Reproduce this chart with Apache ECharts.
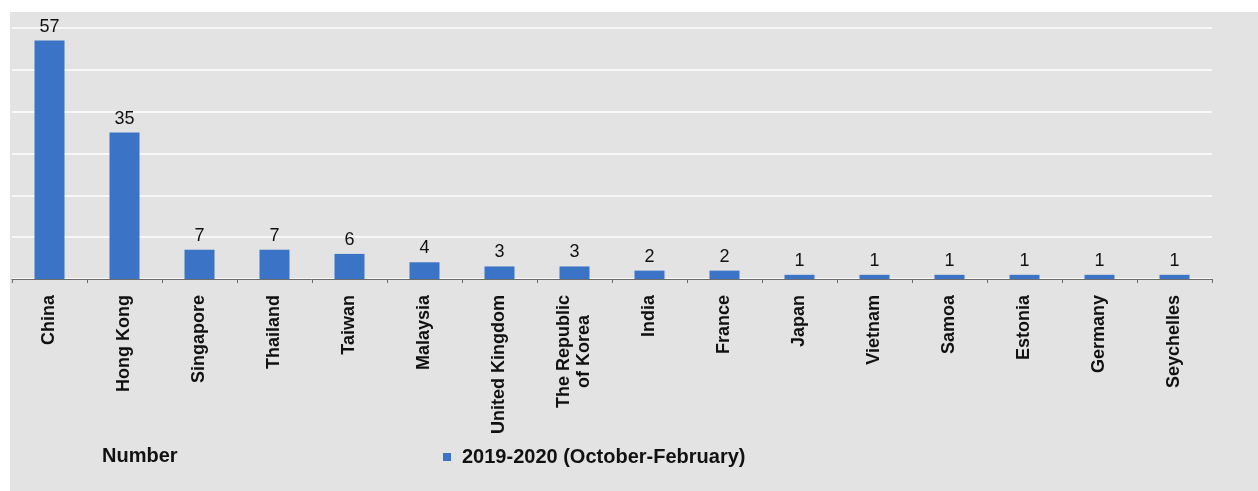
<!DOCTYPE html>
<html>
<head>
<meta charset="utf-8">
<script src="https://cdn.jsdelivr.net/npm/echarts@6/dist/echarts.min.js"></script>
<style>
html,body{margin:0;padding:0;background:#ffffff;}
#chart{width:1258px;height:491px;}
</style>
</head>
<body>
<div id="chart"></div>
<script>
const categories = ["China","Hong Kong","Singapore","Thailand","Taiwan","Malaysia","United Kingdom","The Republic\nof Korea","India","France","Japan","Vietnam","Samoa","Estonia","Germany","Seychelles"];
const values = [57,35,7,7,6,4,3,3,2,2,1,1,1,1,1,1];
const seriesName = "2019-2020 (October-February)";
const yAxisTitle = "Number";
const yMax = 60;
const yInterval = 10;

const chart = echarts.init(document.getElementById('chart'));
const font = '"Liberation Sans", Arial, sans-serif';
chart.setOption({
  backgroundColor: '#ffffff',
  animation: false,
  graphic: [{
    type: 'rect', z: -10, silent: true,
    shape: {x: 10, y: 12, width: 1248, height: 479},
    style: {fill: '#e3e3e3'}
  }],
  title: {
    text: yAxisTitle, left: 97, top: 441,
    textStyle: {fontFamily: font, fontSize: 20, fontWeight: 'bold', color: '#111'}
  },
  legend: {
    left: 438, top: 442,
    itemWidth: 8, itemHeight: 8, itemGap: 5,
    icon: 'rect',
    textStyle: {fontFamily: font, fontSize: 20, fontWeight: 'bold', color: '#111', padding: [0,0,0,6]},
    data: [seriesName]
  },
  grid: {left: 12, right: 46, top: 28, bottom: 212, containLabel: false},
  xAxis: {
    type: 'category',
    data: categories,
    axisLine: {show: true, lineStyle: {color: '#6b6b6b', width: 1}},
    axisTick: {show: true, length: 4, lineStyle: {color: '#6b6b6b'}},
    axisLabel: {
      rotate: 90, margin: 16, interval: 0,
      fontFamily: font, fontSize: 18, fontWeight: 'bold', color: '#111',
      formatter: function (v) { return v.split('\n').map(function (s) { return '{c|' + s + '}'; }).join('\n'); },
      rich: {c: {align: 'center', fontFamily: font, fontSize: 18, fontWeight: 'bold', color: '#111', lineHeight: 20}}
    }
  },
  yAxis: {
    type: 'value', min: 0, max: yMax, interval: yInterval,
    axisLine: {show: false}, axisTick: {show: false}, axisLabel: {show: false},
    splitLine: {show: true, lineStyle: {color: '#ffffff', width: 1.5}}
  },
  series: [{
    name: seriesName,
    type: 'bar',
    data: values,
    barWidth: 30,
    itemStyle: {color: '#3b74c6'},
    label: {show: true, position: 'top', distance: 5, fontFamily: font, fontSize: 18, color: '#111'}
  }]
});
</script>
</body>
</html>
